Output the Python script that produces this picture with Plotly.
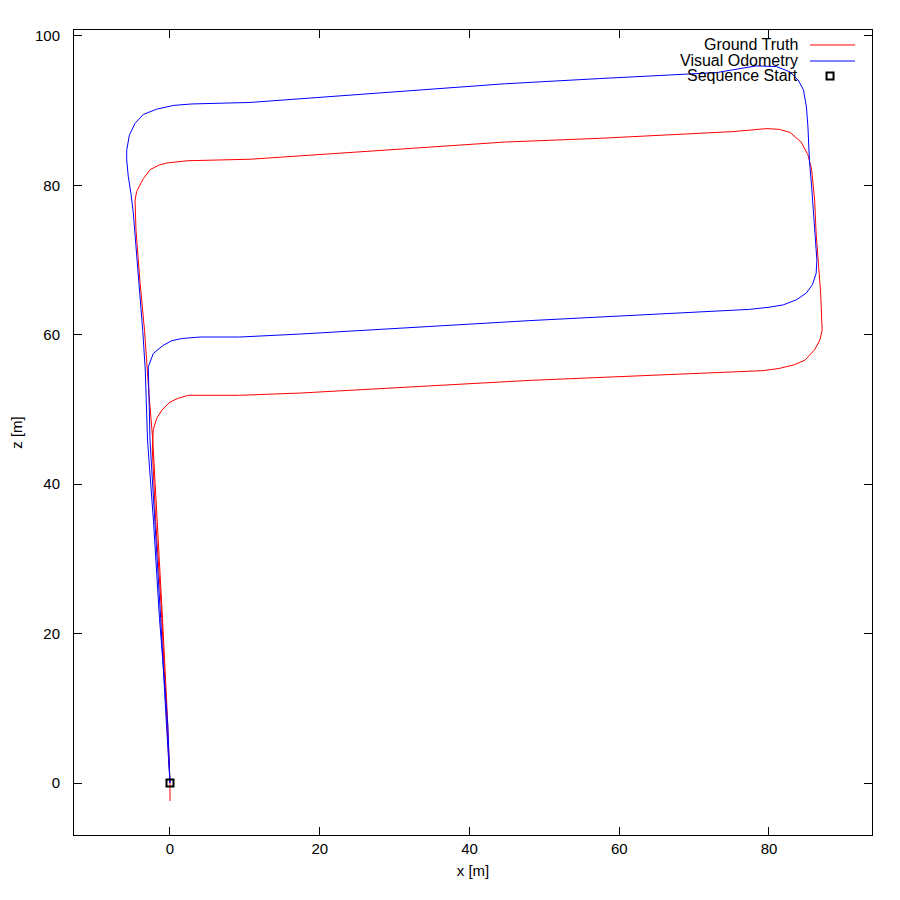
import plotly.graph_objects as go

# Ground truth trajectory (x, z) in metres
gt_x = [0.0, 0.0, -0.4, -1.0, -1.6, -2.3, -2.8, -3.4, -4.0, -4.54, -4.67, -4.45, -3.56, -2.67, -1.5, -0.44,
        2.4, 10.7, 44.7, 57.4, 75.2, 79.7, 81.4, 82.8, 84.3, 85.2, 85.7, 86.1, 86.3, 86.6, 86.9, 87.1,
        86.8, 86.1, 84.8, 83.4, 81.4, 79.2, 48.1, 17.4, 9.3, 2.45, 1.1, 0.0, -1.1, -1.78, -2.23, -2.36,
        -1.9, -1.2, -0.6, -0.2, 0.0, 0.0]
gt_z = [0.0, 0.0, 10.0, 22.0, 33.0, 45.9, 52.0, 60.6, 67.0, 74.0, 78.0, 79.2, 80.9, 82.1, 82.7, 83.0,
        83.3, 83.5, 85.8, 86.3, 87.2, 87.6, 87.5, 87.1, 85.8, 84.1, 82.1, 78.0, 73.6, 70.0, 65.6, 60.6,
        59.3, 58.0, 56.6, 56.0, 55.5, 55.2, 53.9, 52.2, 51.9, 51.9, 51.5, 51.0, 49.9, 48.8, 47.3, 44.6,
        35.0, 24.0, 12.0, 4.0, 0.0, -2.4]

# Visual odometry trajectory (x, z) in metres
vo_x = [0.0, -0.3, -1.4, -2.2, -3.0, -3.3, -3.64, -4.2, -4.67, -4.9, -5.21, -5.57, -5.78, -5.78, -5.43,
        -4.67, -3.56, -1.78, 0.44, 2.9, 10.7, 44.7, 57.4, 73.0, 78.3, 81.0, 82.8, 83.9, 84.6, 85.0, 85.2,
        85.4, 85.7, 85.9, 86.3, 86.4, 86.3, 85.8, 85.0, 83.7, 81.9, 80.1, 77.4, 48.1, 17.4, 9.3, 4.0,
        1.56, 0.23, -0.89, -2.23, -2.9, -2.67, -2.0, -1.24, -0.6, 0.0]
vo_z = [0.0, 8.0, 22.0, 35.0, 45.9, 55.3, 60.6, 68.0, 74.0, 76.3, 78.9, 81.2, 83.4, 84.7, 86.7,
        88.3, 89.5, 90.2, 90.7, 90.9, 91.1, 93.6, 94.3, 95.1, 96.0, 95.9, 95.2, 94.1, 92.8, 90.5, 87.9,
        83.4, 79.8, 76.7, 71.8, 70.0, 68.2, 66.7, 65.6, 64.7, 64.0, 63.7, 63.4, 61.9, 60.1, 59.7, 59.7,
        59.5, 59.2, 58.6, 57.5, 55.7, 45.9, 35.0, 22.0, 10.0, 0.0]

start_x = [0.0]
start_z = [0.0]

x_ticks = [0, 20, 40, 60, 80]
y_ticks = [0, 20, 40, 60, 80, 100]
legend_labels = ["Ground Truth", "Visual Odometry", "Sequence Start"]

FONT = "Liberation Sans, Arial, sans-serif"

fig = go.Figure()
fig.add_trace(go.Scatter(x=gt_x, y=gt_z, mode="lines", line=dict(color="#ff0000", width=1),
                         name=legend_labels[0], showlegend=False))
fig.add_trace(go.Scatter(x=vo_x, y=vo_z, mode="lines", line=dict(color="#0000ff", width=1),
                         name=legend_labels[1], showlegend=False))
fig.add_trace(go.Scatter(x=start_x, y=start_z, mode="markers",
                         marker=dict(symbol="square-open", size=7, color="black",
                                     line=dict(color="black", width=2)),
                         name=legend_labels[2], showlegend=False))

# gnuplot-style legend (text left of sample) drawn in paper coordinates
rows_y = [0.9814, 0.9615, 0.9429]
for lbl, yy in zip(legend_labels, rows_y):
    fig.add_annotation(xref="paper", yref="paper", x=0.9098, y=yy, text=lbl, showarrow=False,
                       xanchor="right", yanchor="middle",
                       font=dict(family=FONT, size=16, color="black"))
fig.add_shape(type="line", xref="paper", yref="paper", x0=0.9223, x1=0.9787, y0=rows_y[0], y1=rows_y[0],
              line=dict(color="#ff0000", width=1))
fig.add_shape(type="line", xref="paper", yref="paper", x0=0.9223, x1=0.9787, y0=rows_y[1], y1=rows_y[1],
              line=dict(color="#0000ff", width=1))
fig.add_trace(go.Scatter(x=[0.9474], y=[rows_y[2]], xaxis="x2", yaxis="y2", mode="markers",
                         marker=dict(symbol="square-open", size=7, color="black",
                                     line=dict(color="black", width=2)),
                         showlegend=False, hoverinfo="skip"))

axis_common = dict(showgrid=False, zeroline=False, showline=True, linecolor="black", linewidth=1,
                   mirror="ticks", ticks="inside", ticklen=8, tickcolor="black", tickwidth=1,
                   automargin=False,
                   tickfont=dict(family=FONT, size=15, color="black"))

fig.update_layout(
    width=892, height=892,
    margin=dict(l=66, r=28, t=22, b=65),
    paper_bgcolor="white", plot_bgcolor="white",
    font=dict(family=FONT, size=15, color="black"),
    xaxis=dict(range=[-12.82, 93.76], tickvals=x_ticks, ticktext=[str(v) for v in x_ticks],
               title=dict(text="x [m]", standoff=9, font=dict(family=FONT, size=15)),
               **axis_common),
    yaxis=dict(range=[-6.96, 100.8], tickvals=y_ticks, ticktext=[str(v) for v in y_ticks],
               ticklabelstandoff=10,
               title=dict(text="z [m]", standoff=19, font=dict(family=FONT, size=15)),
               **axis_common),
    xaxis2=dict(range=[0, 1], domain=[0, 1], overlaying="x", visible=False, fixedrange=True),
    yaxis2=dict(range=[0, 1], domain=[0, 1], overlaying="y", visible=False, fixedrange=True),
    showlegend=False,
)

fig.write_html("out.html")
